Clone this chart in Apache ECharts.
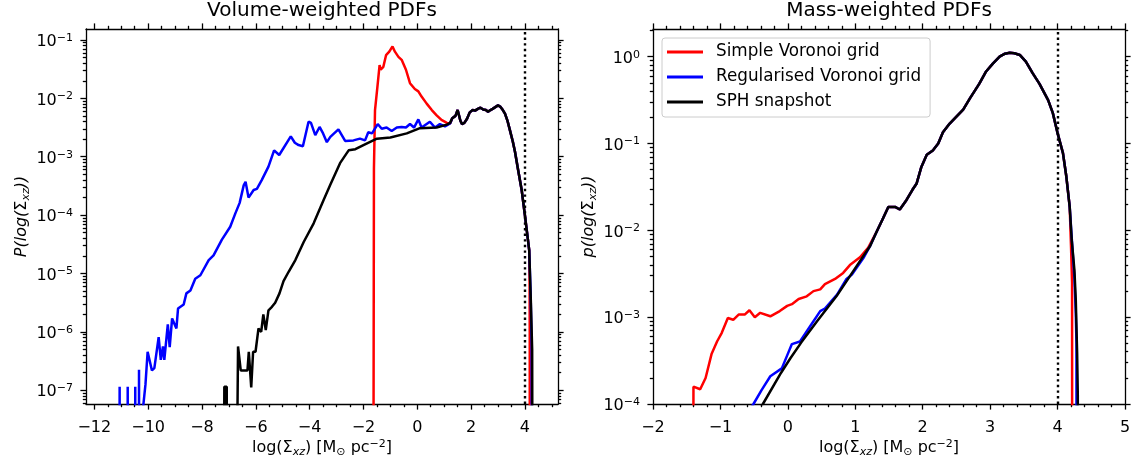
<!DOCTYPE html>
<html>
<head>
<meta charset="utf-8">
<script src="https://cdn.jsdelivr.net/npm/echarts@6.0.0/dist/echarts.min.js"></script>
<style>
html,body{margin:0;padding:0;background:#fff;}
#chart{width:1137px;height:466px;}
</style>
</head>
<body>
<div id="chart"></div>
<script>
// ---------------- data (x = log Sigma, y = log10 of the PDF) ----------------
const E = -12; // empty bin: log10(0) stand-in, falls below the axis and is clipped

const seriesNames = ['Simple Voronoi grid', 'Regularised Voronoi grid', 'SPH snapshot'];
const seriesColors = ['#ff0000', '#0000ff', '#000000'];
const thresholdX = 4;

// Volume-weighted PDFs (left panel)
const volSimple = [[-1.64,E],[-1.61,-3.2],[-1.57,-2.2],[-1.48,-1.8],[-1.40,-1.43],[-1.36,-1.51],[-1.26,-1.46],[-1.16,-1.26],[-1.04,-1.20],[-0.92,-1.11],[-0.83,-1.20],[-0.70,-1.29],[-0.58,-1.34],[-0.42,-1.51],[-0.27,-1.74],[-0.09,-1.84],[0.04,-1.88],[0.16,-1.97],[0.35,-2.09],[0.54,-2.20],[0.72,-2.29],[0.90,-2.37],[1.10,-2.42],[1.22,-2.43]];
const volRegular = [[-11.07,E],[-11.06,-6.94],[-11.05,E],[-10.77,E],[-10.76,-6.94],[-10.75,E],[-10.49,E],[-10.48,-6.94],[-10.47,E],[-10.35,E],[-10.34,-6.65],[-10.33,E],[-10.19,-7.3],[-10.10,-6.9],[-10.02,-6.34],[-9.86,-6.66],[-9.77,-6.62],[-9.61,-6.09],[-9.53,-6.48],[-9.45,-6.25],[-9.40,-6.48],[-9.27,-5.87],[-9.20,-6.26],[-9.11,-5.77],[-8.95,-5.94],[-8.89,-5.60],[-8.68,-5.53],[-8.58,-5.34],[-8.43,-5.29],[-8.25,-5.09],[-8.06,-5.03],[-7.75,-4.77],[-7.57,-4.69],[-7.26,-4.42],[-6.95,-4.20],[-6.76,-3.97],[-6.60,-3.79],[-6.45,-3.49],[-6.38,-3.43],[-6.27,-3.70],[-6.08,-3.57],[-5.96,-3.55],[-5.78,-3.40],[-5.53,-3.17],[-5.32,-2.89],[-5.13,-2.97],[-4.70,-2.65],[-4.55,-2.76],[-4.41,-2.80],[-4.25,-2.82],[-4.04,-2.40],[-3.95,-2.42],[-3.79,-2.63],[-3.63,-2.49],[-3.50,-2.60],[-3.36,-2.75],[-3.23,-2.66],[-2.93,-2.53],[-2.68,-2.73],[-2.37,-2.72],[-2.13,-2.69],[-1.94,-2.72],[-1.82,-2.58],[-1.68,-2.60],[-1.47,-2.44],[-1.32,-2.52],[-1.14,-2.50],[-0.95,-2.56],[-0.76,-2.50],[-0.58,-2.49],[-0.42,-2.50],[-0.27,-2.44],[-0.12,-2.50],[0.04,-2.36],[0.16,-2.50],[0.47,-2.40],[0.66,-2.50],[0.84,-2.44],[1.03,-2.48],[1.22,-2.43]];
const volSph = [[-7.19,E],[-7.17,-6.94],[-7.08,-6.94],[-7.06,E],[-6.77,E],[-6.66,-6.25],[-6.56,-6.66],[-6.31,-6.66],[-6.26,-6.34],[-6.17,-6.95],[-6.10,-6.34],[-6.01,-6.34],[-5.90,-5.94],[-5.80,-6.00],[-5.72,-5.70],[-5.63,-5.97],[-5.53,-5.63],[-5.40,-5.57],[-5.28,-5.50],[-5.12,-5.34],[-4.97,-5.13],[-4.78,-4.97],[-4.53,-4.77],[-4.22,-4.46],[-3.85,-4.14],[-3.48,-3.74],[-3.24,-3.49],[-2.87,-3.11],[-2.55,-2.89],[-2.30,-2.87],[-2.00,-2.80],[-1.50,-2.69],[-1.00,-2.67],[-0.39,-2.60],[0.10,-2.51],[0.72,-2.50],[1.10,-2.45],[1.22,-2.42]];
const volShared = [[1.30,-2.34],[1.42,-2.30],[1.50,-2.20],[1.60,-2.38],[1.66,-2.44],[1.75,-2.42],[1.85,-2.35],[1.95,-2.24],[2.06,-2.20],[2.15,-2.21],[2.25,-2.18],[2.35,-2.16],[2.45,-2.19],[2.55,-2.20],[2.63,-2.23],[2.72,-2.20],[2.80,-2.18],[2.90,-2.15],[3.00,-2.12],[3.08,-2.14],[3.18,-2.20],[3.26,-2.26],[3.35,-2.38],[3.44,-2.54],[3.55,-2.74],[3.63,-2.91],[3.75,-3.23],[3.88,-3.57],[4.00,-4.00],[4.08,-4.30],[4.16,-4.60]];
const volSimpleEnd = [[4.175,-5.2],[4.18,-6.0],[4.185,E]];
const volRegularEnd = [[4.21,-5.3],[4.25,-6.2],[4.265,E]];
const volSphEnd = [[4.22,-5.46],[4.27,-6.31],[4.295,E]];

// Mass-weighted PDFs (right panel)
const massSimple = [[-1.415,E],[-1.40,-3.80],[-1.30,-3.83],[-1.22,-3.70],[-1.13,-3.42],[-1.05,-3.28],[-0.98,-3.18],[-0.89,-3.01],[-0.81,-3.03],[-0.73,-2.97],[-0.64,-2.97],[-0.57,-2.92],[-0.49,-3.00],[-0.41,-2.95],[-0.26,-2.99],[-0.12,-2.93],[-0.01,-2.87],[0.06,-2.85],[0.16,-2.79],[0.28,-2.76],[0.38,-2.70],[0.48,-2.68],[0.55,-2.62],[0.70,-2.56],[0.82,-2.49],[0.92,-2.40],[1.07,-2.31],[1.19,-2.20]];
const massRegular = [[-0.75,-4.3],[-0.51,-4.0],[-0.39,-3.84],[-0.26,-3.68],[-0.09,-3.59],[-0.01,-3.44],[0.06,-3.31],[0.18,-3.28],[0.36,-3.07],[0.48,-2.93],[0.55,-2.90],[0.73,-2.74],[0.87,-2.56],[0.95,-2.51],[1.12,-2.32],[1.22,-2.18]];
const massSph = [[-0.62,-4.28],[-0.37,-4.0],[-0.10,-3.64],[0.04,-3.47],[0.20,-3.29],[0.43,-3.05],[0.72,-2.76],[0.97,-2.47],[1.22,-2.18]];
const massShared = [[1.32,-2.01],[1.40,-1.88],[1.49,-1.73],[1.59,-1.73],[1.66,-1.76],[1.76,-1.65],[1.85,-1.53],[1.91,-1.46],[1.98,-1.27],[2.06,-1.13],[2.15,-1.08],[2.23,-1.00],[2.30,-0.87],[2.40,-0.77],[2.50,-0.69],[2.60,-0.61],[2.70,-0.48],[2.84,-0.31],[2.94,-0.17],[3.04,-0.08],[3.14,0.00],[3.22,0.035],[3.29,0.046],[3.36,0.04],[3.44,0.02],[3.53,-0.057],[3.63,-0.19],[3.73,-0.31],[3.86,-0.50],[3.93,-0.65],[4.00,-0.88],[4.08,-1.11],[4.13,-1.38],[4.18,-1.73]];
const massSimpleEnd = [[4.20,-2.2],[4.215,-2.6],[4.22,E]];
const massRegularEnd = [[4.22,-2.2],[4.25,-2.55],[4.27,-2.95],[4.28,-3.3],[4.285,E]];
const massSphEnd = [[4.21,-2.11],[4.25,-2.46],[4.27,-2.80],[4.29,-3.41],[4.30,-3.9],[4.305,E]];

// axes: ranges and tick labels
const volXRange = [-12.31, 5.23], volYRange = [-7.235, -0.812];
const massXRange = [-2, 5], massYRange = [-4, 0.319];
const volXTicks = [-12, -10, -8, -6, -4, -2, 0, 2, 4];
const volYTicks = [-7, -6, -5, -4, -3, -2, -1];
const massXTicks = [-2, -1, 0, 1, 2, 3, 4, 5];
const massYTicks = [-4, -3, -2, -1, 0];
const titles = ['Volume-weighted PDFs', 'Mass-weighted PDFs'];

// ---------------- helpers ----------------
const FONT = 'DejaVu Sans';
const BLACK = '#000';
const GRID_LEFT = [86, 653], GRID_TOP = 29, GRID_W = 472, GRID_H = 375;

function linMinors(range, step, majors) {
  const out = [];
  const n0 = Math.ceil(range[0] / step - 1e-9), n1 = Math.floor(range[1] / step + 1e-9);
  for (let n = n0; n <= n1; n++) {
    const v = +(n * step).toFixed(6);
    if (!majors.some(m => Math.abs(m - v) < 1e-9)) out.push(v);
  }
  return out;
}
function logMinors(range) {
  const out = [];
  for (let d = Math.floor(range[0]) - 1; d <= Math.ceil(range[1]); d++) {
    for (let k = 2; k <= 9; k++) {
      const v = d + Math.log10(k);
      if (v >= range[0] && v <= range[1]) out.push(v);
    }
  }
  return out;
}
const minus = v => (v < 0 ? '\u2212' + (-v) : '' + v);
const tickLine = {color: BLACK, width: 1.3};

const nameRich = {
  n: {fontSize: 16, fontFamily: FONT, color: BLACK, lineHeight: 16, padding: [4, 0, 4, 0]},
  i: {fontSize: 16, fontFamily: FONT, color: BLACK, lineHeight: 16, padding: [4, 0, 4, 0], fontStyle: 'italic'},
  sb: {fontSize: 11, fontFamily: FONT, color: BLACK, lineHeight: 12, padding: [10, 0, 2, 0], fontStyle: 'italic'},
  so: {fontSize: 11, fontFamily: FONT, color: BLACK, lineHeight: 12, padding: [10, 0, 2, 0]},
  sp: {fontSize: 11, fontFamily: FONT, color: BLACK, lineHeight: 12, padding: [2, 0, 10, 0]}
};
const xName = '{n|log(\u03A3}{sb|xz}{n|) [M}{so|\u2299}{n| pc}{sp|\u22122}{n|]}';
const yNames = ['{i|P(log(}{n|\u03A3}{sb|xz}{i|))}', '{i|p(log(}{n|\u03A3}{sb|xz}{i|))}'];

function makeXAxes(gi, range, majors) {
  const minors = linMinors(range, gi === 0 ? 0.5 : 0.2, majors);
  const base = {gridIndex: gi, type: 'value', min: range[0], max: range[1], splitLine: {show: false}, axisPointer: {show: false}};
  return [
    Object.assign({}, base, {
      position: 'bottom',
      axisLine: {show: true, onZero: false, lineStyle: tickLine},
      axisTick: {show: true, inside: false, length: 5.6, customValues: majors, lineStyle: tickLine},
      axisLabel: {
        show: true, customValues: majors, margin: 16,
        formatter: minus,
        fontSize: 16, fontFamily: FONT, color: BLACK, lineHeight: 16
      },
      name: xName, nameLocation: 'middle', nameGap: 36, nameMoveOverlap: false,
      nameTextStyle: {rich: nameRich}
    }),
    Object.assign({}, base, {
      position: 'bottom',
      axisLine: {show: false, onZero: false},
      axisTick: {show: true, inside: false, length: 3.2, customValues: minors, lineStyle: tickLine},
      axisLabel: {show: false}
    }),
    Object.assign({}, base, {
      position: 'top',
      axisLine: {show: true, onZero: false, lineStyle: tickLine},
      axisTick: {show: true, inside: false, length: 5.6, customValues: majors, lineStyle: tickLine},
      axisLabel: {show: false}
    }),
    Object.assign({}, base, {
      position: 'top',
      axisLine: {show: false, onZero: false},
      axisTick: {show: true, inside: false, length: 3.2, customValues: minors, lineStyle: tickLine},
      axisLabel: {show: false}
    })
  ];
}
function makeYAxes(gi, range, majors) {
  const minors = logMinors(range);
  const base = {gridIndex: gi, type: 'value', min: range[0], max: range[1], splitLine: {show: false}, axisPointer: {show: false}};
  return [
    Object.assign({}, base, {
      position: 'left',
      axisLine: {show: true, onZero: false, lineStyle: tickLine},
      axisTick: {show: true, inside: false, length: 5.6, customValues: majors, lineStyle: tickLine},
      axisLabel: {
        show: true, customValues: majors, margin: 13,
        formatter: v => '{b|10}{s|' + minus(v) + '}',
        rich: {
          b: {fontSize: 16, fontFamily: FONT, color: BLACK, lineHeight: 16, padding: [4, 0, 0, 0]},
          s: {fontSize: 11, fontFamily: FONT, color: BLACK, lineHeight: 16, padding: [0, 0, 4, 0]}
        }
      },
      name: yNames[gi], nameLocation: 'middle', nameGap: 56, nameMoveOverlap: false,
      nameTextStyle: {rich: nameRich}
    }),
    Object.assign({}, base, {
      position: 'left',
      axisLine: {show: false, onZero: false},
      axisTick: {show: true, inside: false, length: 3.2, customValues: minors, lineStyle: tickLine},
      axisLabel: {show: false}
    }),
    Object.assign({}, base, {
      position: 'right',
      axisLine: {show: true, onZero: false, lineStyle: tickLine},
      axisTick: {show: true, inside: false, length: 5.6, customValues: majors, lineStyle: tickLine},
      axisLabel: {show: false}
    }),
    Object.assign({}, base, {
      position: 'right',
      axisLine: {show: false, onZero: false},
      axisTick: {show: true, inside: false, length: 3.2, customValues: minors, lineStyle: tickLine},
      axisLabel: {show: false}
    })
  ];
}

function makeLine(gi, idx, pts, withMark) {
  const s = {
    type: 'line', name: seriesNames[idx], xAxisIndex: gi * 4, yAxisIndex: gi * 4,
    data: pts, showSymbol: false, symbol: 'none', clip: true, smooth: false,
    color: seriesColors[idx],
    lineStyle: {color: seriesColors[idx], width: 2.5},
    itemStyle: {color: seriesColors[idx]},
    emphasis: {disabled: true}, silent: true, z: 2 + idx
  };
  if (withMark) {
    s.markLine = {
      silent: true, symbol: ['none', 'none'], animation: false,
      label: {show: false},
      lineStyle: {type: [2.4, 3.2], color: BLACK, width: 2.4, cap: 'butt'},
      data: [{xAxis: thresholdX}]
    };
  }
  return s;
}

const series = [
  makeLine(0, 0, volSimple.concat(volShared, volSimpleEnd), false),
  makeLine(0, 1, volRegular.concat(volShared, volRegularEnd), false),
  makeLine(0, 2, volSph.concat(volShared, volSphEnd), true),
  makeLine(1, 0, massSimple.concat(massShared, massSimpleEnd), false),
  makeLine(1, 1, massRegular.concat(massShared, massRegularEnd), false),
  makeLine(1, 2, massSph.concat(massShared, massSphEnd), true)
];

const option = {
  animation: false,
  backgroundColor: '#ffffff',
  title: titles.map((t, i) => ({
    text: t, left: GRID_LEFT[i] + GRID_W / 2, top: 1, textAlign: 'center', padding: 0,
    textStyle: {fontSize: 20, fontWeight: 'normal', fontFamily: FONT, color: BLACK}
  })),
  grid: GRID_LEFT.map(l => ({left: l, top: GRID_TOP, width: GRID_W, height: GRID_H, containLabel: false, outerBoundsMode: 'none'})),
  xAxis: makeXAxes(0, volXRange, volXTicks).concat(makeXAxes(1, massXRange, massXTicks)),
  yAxis: makeYAxes(0, volYRange, volYTicks).concat(makeYAxes(1, massYRange, massYTicks)),
  legend: {
    show: true, orient: 'vertical', left: 662, top: 38,
    itemWidth: 36, itemHeight: 3, itemGap: 7, icon: 'rect',
    padding: [5, 9, 6, 5],
    borderColor: '#cccccc', borderWidth: 1, borderRadius: 3,
    backgroundColor: 'rgba(255,255,255,0.8)',
    selectedMode: false,
    textStyle: {fontSize: 16.8, fontFamily: FONT, color: BLACK, lineHeight: 18, padding: [0, 0, 0, 8]},
    data: seriesNames
  },
  series: series
};

const chart = echarts.init(document.getElementById('chart'), null, {renderer: 'canvas'});
chart.setOption(option);
</script>
</body>
</html>
